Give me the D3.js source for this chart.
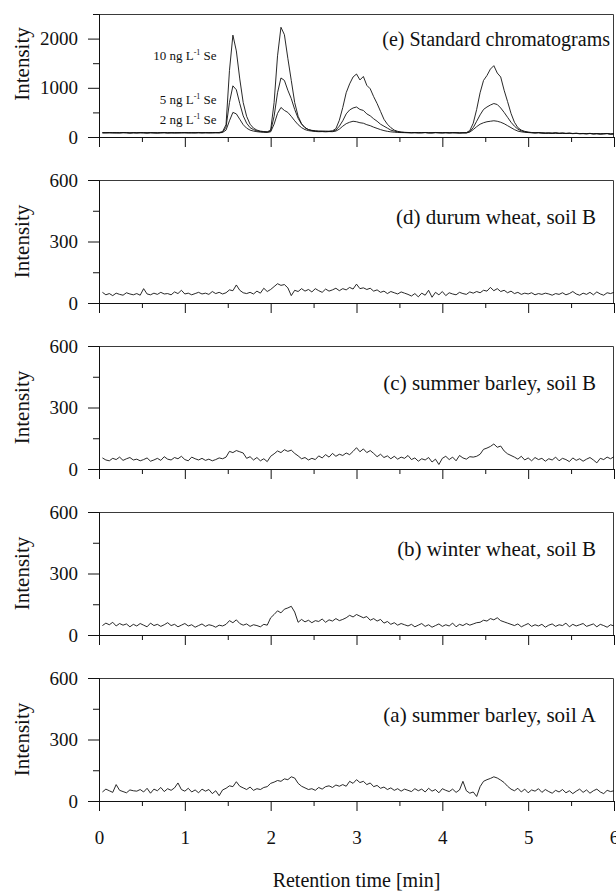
<!DOCTYPE html>
<html>
<head>
<meta charset="utf-8">
<script src="https://cdn.jsdelivr.net/npm/d3@7"></script>
<style>
  body { margin: 0; background: #fff; }
  svg { display: block; }
</style>
</head>
<body>
<svg id="chart" width="616" height="892"></svg>
<script>
// Detector readings: one value every 0.04 min, first reading at 0.04 min.
const retentionStart = 0.04;
const retentionStep = 0.04;

// Standard chromatograms (intensity, counts)
const std10 = [
  88, 84, 90, 86, 82, 88, 92, 85, 80, 86,
  84, 90, 86, 82, 88, 84, 80, 86, 90, 84,
  86, 82, 88, 84, 90, 86, 82, 88, 92, 86,
  88, 84, 90, 86, 92, 110, 250, 1350, 2070, 1750,
  1180, 700, 420, 260, 180, 140, 120, 110, 105, 140,
  700, 1650, 2230, 2080, 1600, 1150, 700, 420, 270, 190,
  150, 130, 122, 118, 120, 112, 118, 125, 170, 340,
  600, 900, 1080, 1220, 1280, 1160, 1230, 1050, 980, 820,
  680, 520, 360, 260, 190, 140, 115, 100, 95, 92,
  90, 88, 92, 86, 90, 84, 88, 92, 86, 88,
  90, 86, 84, 88, 85, 82, 90, 130, 280, 560,
  900, 1150, 1250, 1380, 1450, 1300, 1220, 950, 720, 480,
  300, 190, 140, 115, 100, 92, 86, 90, 84, 80,
  82, 78, 84, 76, 80, 74, 78, 72, 76, 70,
  72, 68, 74, 66, 70, 64, 68, 72, 62, 66
];
const std5 = [
  86, 88, 84, 90, 86, 82, 88, 86, 84, 88,
  82, 88, 84, 86, 90, 82, 86, 84, 88, 82,
  88, 84, 86, 90, 84, 88, 86, 82, 88, 84,
  86, 90, 84, 88, 86, 100, 200, 700, 1040, 960,
  680, 430, 280, 190, 150, 125, 110, 105, 100, 120,
  420, 900, 1200, 1150, 950, 780, 560, 380, 260, 190,
  150, 135, 125, 118, 115, 120, 112, 118, 140, 220,
  330, 470, 550, 590, 610, 560, 540, 470, 430, 370,
  320, 260, 220, 180, 140, 120, 105, 98, 92, 90,
  86, 90, 84, 88, 92, 86, 84, 90, 88, 84,
  88, 84, 90, 86, 82, 88, 84, 110, 190, 320,
  450, 560, 610, 650, 680, 660, 590, 500, 400, 300,
  220, 160, 125, 105, 95, 88, 84, 88, 82, 78,
  80, 76, 82, 74, 78, 72, 76, 70, 74, 68,
  70, 66, 72, 64, 68, 62, 66, 70, 60, 64
];
const std2 = [
  84, 86, 88, 82, 88, 84, 86, 90, 82, 86,
  86, 84, 88, 80, 84, 88, 82, 88, 86, 84,
  84, 88, 82, 86, 88, 82, 90, 86, 84, 86,
  88, 84, 86, 90, 84, 92, 140, 330, 500, 470,
  360, 250, 180, 140, 120, 108, 100, 96, 94, 105,
  260, 480, 600, 540, 500, 420, 330, 250, 190, 150,
  130, 120, 112, 108, 110, 105, 110, 108, 120, 160,
  220, 270, 300, 320, 310, 290, 280, 250, 230, 200,
  175, 150, 130, 115, 105, 98, 92, 90, 88, 86,
  84, 88, 82, 86, 90, 84, 82, 88, 86, 82,
  86, 82, 88, 84, 80, 86, 82, 100, 150, 210,
  260, 290, 310, 320, 330, 320, 300, 270, 230, 190,
  150, 120, 105, 96, 90, 86, 82, 86, 80, 76,
  78, 74, 80, 72, 76, 70, 74, 68, 72, 66,
  68, 64, 70, 62, 66, 60, 64, 68, 58, 62
];

// Plant extracts
const durumWheatSoilB = [
  52, 40, 46, 36, 48, 42, 38, 50, 44, 40,
  46, 38, 70, 44, 40, 48, 42, 52, 44, 46,
  40, 54, 46, 62, 44, 48, 40, 46, 52, 44,
  48, 42, 56, 46, 52, 44, 50, 64, 60, 88,
  62, 50, 46, 52, 44, 58, 48, 72, 56, 66,
  80, 94, 86, 90, 74, 36, 62, 56, 70, 58,
  66, 54, 70, 60, 52, 68, 58, 64, 72, 60,
  70, 64, 76, 68, 92, 70, 74, 66, 72, 58,
  64, 52, 58, 46, 56, 50, 44, 54, 48, 42,
  34, 46, 30, 48, 38, 62, 28, 52, 40, 56,
  36, 50, 44, 40, 52, 46, 42, 54, 48, 56,
  50, 62, 58, 76, 60, 70, 56, 62, 50, 58,
  46, 52, 42, 48, 44, 50, 40, 46, 42, 48,
  44, 38, 46, 42, 50, 40, 46, 56, 44, 38,
  48, 42, 52, 40, 54, 44, 38, 50, 46, 52
];
const summerBarleySoilB = [
  54, 44, 40, 52, 46, 58, 42, 50, 56, 44,
  48, 40, 46, 54, 38, 44, 52, 42, 60, 48,
  44, 56, 50, 62, 46, 40, 58, 50, 44, 52,
  42, 48, 40, 46, 54, 50, 58, 86, 80, 90,
  84, 78, 52, 60, 44, 56, 40, 50, 36, 62,
  74, 88, 80, 94, 86, 92, 76, 64, 50, 56,
  44, 52, 46, 64, 54, 70, 58, 76, 62, 72,
  66, 78, 70, 86, 104, 84, 98, 80, 90, 76,
  60, 72, 56, 64, 50, 62, 48, 58, 52, 66,
  46, 54, 38, 50, 44, 56, 34, 48, 22, 52,
  62, 46, 58, 40, 66, 54, 48, 60, 58, 62,
  72, 96, 102, 110, 122, 106, 112, 88, 74, 66,
  58, 48, 62, 44, 54, 40, 56, 46, 52, 38,
  50, 44, 58, 40, 52, 46, 36, 54, 42, 50,
  38, 48, 56, 44, 30, 52, 46, 58, 50, 60
];
const winterWheatSoilB = [
  46, 58, 50, 62, 44, 56, 48, 54, 40, 52,
  44, 56, 48, 40, 58, 46, 52, 42, 50, 60,
  46, 52, 40, 48, 56, 44, 50, 38, 46, 54,
  42, 50, 46, 38, 48, 44, 52, 70, 60, 74,
  56, 48, 54, 42, 50, 46, 40, 52, 48, 84,
  100, 118, 108, 126, 132, 140, 112, 62, 76, 64,
  72, 60, 70, 66, 78, 62, 74, 68, 80, 70,
  76, 84, 96, 88, 100, 92, 84, 90, 72, 80,
  68, 76, 58, 66, 52, 60, 48, 56, 50, 44,
  52, 40, 48, 56, 42, 50, 38, 46, 54, 42,
  50, 44, 58, 40, 52, 46, 56, 48, 54, 60,
  62, 72, 68, 80, 74, 84, 70, 64, 58, 52,
  46, 54, 40, 48, 56, 42, 50, 44, 52, 38,
  48, 54, 42, 50, 46, 58, 40, 52, 44, 50,
  56, 42, 48, 54, 40, 52, 46, 38, 50, 44
];
const summerBarleySoilA = [
  44, 58, 50, 42, 80, 52, 46, 40, 54, 50,
  48, 56, 44, 62, 38, 58, 50, 66, 46, 60,
  52, 64, 88, 56, 48, 62, 44, 54, 40, 58,
  48, 56, 36, 50, 26, 54, 62, 74, 70, 94,
  72, 64, 56, 68, 52, 60, 56, 66, 70, 86,
  92, 100, 96, 108, 104, 118, 112, 86, 72, 64,
  56, 60, 52, 66, 58, 70, 74, 66, 78, 72,
  80, 72, 96, 86, 104, 90, 96, 80, 88, 70,
  76, 62, 68, 56, 64, 52, 60, 48, 58, 52,
  46, 60, 50, 58, 44, 62, 48, 56, 40, 60,
  52, 46, 58, 42, 54, 96, 50, 38, 44, 22,
  70, 96, 104, 110, 118, 112, 102, 90, 72, 58,
  50, 62, 44, 58, 40, 54, 48, 60, 42, 56,
  46, 38, 52, 44, 56, 40, 50, 36, 48, 58,
  42, 54, 38, 50, 58, 44, 36, 52, 46, 50
];

// Axis ticks
const timeTicksMajor = [0, 1, 2, 3, 4, 5, 6];
const timeTicksMinor = [0.5, 1.5, 2.5, 3.5, 4.5, 5.5];
const stdTicksMajor = [0, 1000, 2000];
const stdTicksMinor = [500, 1500, 2500];
const sampleTicksMajor = [0, 300, 600];
const sampleTicksMinor = [150, 450];

// Concentration labels of the standards and the intensity they sit at
const stdLabels = ["10", "5", "2"];
const stdLabelLevels = [1560, 680, 255];

const panels = [
  { title: "(e) Standard chromatograms", top: 14, yMax: 2500, major: stdTicksMajor, minor: stdTicksMinor, traces: [std10, std5, std2], titleX: 610, titleLevel: 2000, titleSize: 20, labelMid: 64 },
  { title: "(d) durum wheat, soil B", top: 180, yMax: 600, major: sampleTicksMajor, minor: sampleTicksMinor, traces: [durumWheatSoilB], titleX: 596, titleLevel: 420, titleSize: 21 },
  { title: "(c) summer barley, soil B", top: 346, yMax: 600, major: sampleTicksMajor, minor: sampleTicksMinor, traces: [summerBarleySoilB], titleX: 596, titleLevel: 420, titleSize: 21 },
  { title: "(b) winter wheat, soil B", top: 512, yMax: 600, major: sampleTicksMajor, minor: sampleTicksMinor, traces: [winterWheatSoilB], titleX: 596, titleLevel: 420, titleSize: 21 },
  { title: "(a) summer barley, soil A", top: 678, yMax: 600, major: sampleTicksMajor, minor: sampleTicksMinor, traces: [summerBarleySoilA], titleX: 596, titleLevel: 420, titleSize: 21 }
];

const FONT = "'Liberation Serif', 'Times New Roman', serif";
const plotH = 123;
const svg = d3.select("#chart");
const x = d3.scaleLinear().domain([0, 6]).range([99, 614]);

panels.forEach((p, pi) => {
  const y = d3.scaleLinear().domain([0, p.yMax]).range([p.top + plotH, p.top]);
  const g = svg.append("g");
  const isLast = pi === panels.length - 1;

  // top and right frame
  g.append("path")
    .attr("d", `M${x(0)},${y(p.yMax) + 0.5}H${x(6) - 0.5}V${y(0)}`)
    .attr("fill", "none")
    .attr("stroke", "#3a3a3a")
    .attr("stroke-width", 1);

  // chromatogram traces
  const line = d3.line()
    .x((d, i) => x(retentionStart + i * retentionStep))
    .y(d => y(d));
  p.traces.forEach(tr => {
    g.append("path")
      .datum(tr)
      .attr("d", line)
      .attr("fill", "none")
      .attr("stroke", "#111")
      .attr("stroke-width", 0.9)
      .attr("stroke-linejoin", "round");
  });

  // left axis
  const yMinor = g.append("g").attr("transform", `translate(${x(0)},0)`)
    .call(d3.axisLeft(y).tickValues(p.minor).tickSize(6).tickSizeOuter(0).tickFormat(""));
  const yMajor = g.append("g").attr("transform", `translate(${x(0)},0)`)
    .call(d3.axisLeft(y).tickValues(p.major).tickSize(11).tickSizeOuter(0).tickPadding(10).tickFormat(d3.format("d")));

  // bottom axis
  const xMinor = g.append("g").attr("transform", `translate(0,${y(0)})`)
    .call(d3.axisBottom(x).tickValues(timeTicksMinor).tickSize(5).tickSizeOuter(0).tickFormat(""));
  const xMajor = g.append("g").attr("transform", `translate(0,${y(0)})`)
    .call(d3.axisBottom(x).tickValues(timeTicksMajor).tickSize(10).tickSizeOuter(0).tickPadding(20)
      .tickFormat(isLast ? d3.format("d") : ""));

  [yMinor, yMajor, xMinor, xMajor].forEach(a => {
    a.attr("font-family", FONT).attr("font-size", 19);
    a.selectAll("text").attr("fill", "#111");
    a.selectAll("line, path").attr("stroke", "#111");
  });

  // panel title
  g.append("text")
    .attr("x", p.titleX)
    .attr("y", y(p.titleLevel))
    .attr("text-anchor", "end")
    .attr("dominant-baseline", "central")
    .attr("font-family", FONT)
    .attr("font-size", p.titleSize)
    .attr("fill", "#111")
    .text(p.title);

  // y-axis title
  const mid = p.labelMid !== undefined ? p.labelMid : (y(0) + y(p.yMax)) / 2;
  g.append("text")
    .attr("transform", `translate(22,${mid}) rotate(-90)`)
    .attr("text-anchor", "middle")
    .attr("dominant-baseline", "central")
    .attr("font-family", FONT)
    .attr("font-size", 21)
    .attr("fill", "#111")
    .text("Intensity");

  // concentration labels for the standards
  if (pi === 0) {
    stdLabels.forEach((c, k) => {
      const t = g.append("text")
        .attr("x", x(1.37))
        .attr("y", y(stdLabelLevels[k]))
        .attr("text-anchor", "end")
        .attr("font-family", FONT)
        .attr("font-size", 13)
        .attr("fill", "#111");
      t.append("tspan").text(c + " ng L");
      t.append("tspan").attr("font-size", 8).attr("dy", -5).text("-1");
      t.append("tspan").attr("dy", 5).text(" Se");
    });
  }
});

// x-axis title
svg.append("text")
  .attr("x", x(3))
  .attr("y", 880)
  .attr("text-anchor", "middle")
  .attr("dominant-baseline", "central")
  .attr("font-family", FONT)
  .attr("font-size", 20)
  .attr("fill", "#111")
  .text("Retention time [min]");
</script>
</body>
</html>
